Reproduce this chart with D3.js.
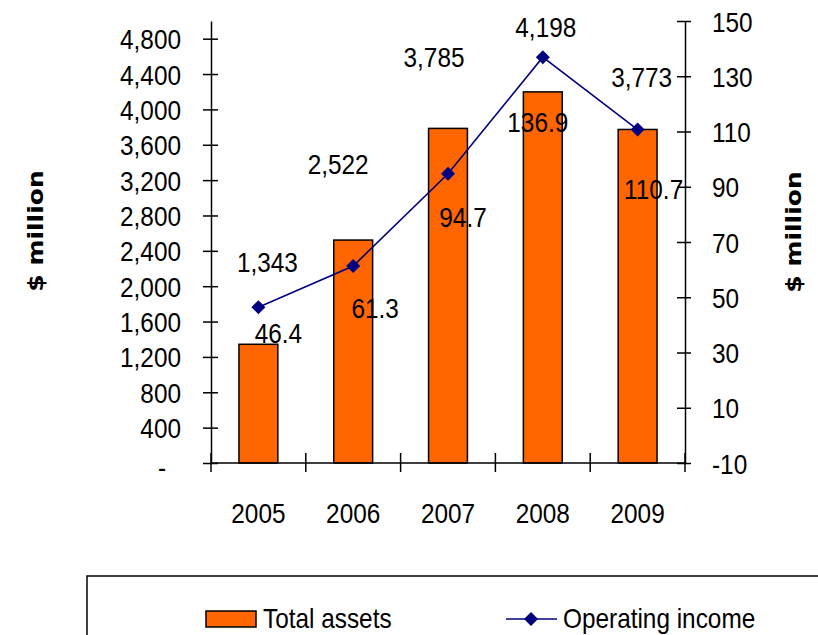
<!DOCTYPE html>
<html>
<head>
<meta charset="utf-8">
<script src="https://cdn.jsdelivr.net/npm/d3@7"></script>
<style>
  html, body { margin: 0; padding: 0; background: #fff; }
  svg { display: block; }
  .lbl { font-family: "Liberation Sans", Arial, sans-serif; font-size: 28px; fill: #000; }
  .ttl { font-family: "DejaVu Sans", Verdana, sans-serif; font-size: 25px; font-weight: bold; fill: #000; }
</style>
</head>
<body>
<svg id="chart" width="818" height="635"></svg>
<script>
// Data
const years = ["2005", "2006", "2007", "2008", "2009"];
const totalAssets = [1343, 2522, 3785, 4198, 3773];          // $ million, left axis
const operatingIncome = [46.4, 61.3, 94.7, 136.9, 110.7];    // $ million, right axis
const leftTicks = d3.range(0, 4801, 400);
const rightTicks = d3.range(-10, 151, 20);
const seriesNames = ["Total assets", "Operating income"];

// Label placement nudges [dx from category centre, dy from mark]
const assetLabelNudge = [[9, -72], [-15, -66], [-14, -61], [3, -55], [4, -42]];
const incomeLabelNudge = [[20, 36], [22, 52], [15, 53], [-5, 75], [16, 69]];

const SX = 0.87;            // horizontal squeeze of the label font
const BAR = "#FF6600", LINE = "#000080";

const svg = d3.select("#chart");
svg.append("rect").attr("width", 818).attr("height", 635).attr("fill", "#fff");

const plot = { left: 211, right: 685, top: 21, bottom: 463 };
const x = d3.scaleBand().domain(years).range([plot.left, plot.right]);
const yL = d3.scaleLinear().domain([0, 5000]).range([plot.bottom, plot.top]);
const yR = d3.scaleLinear().domain([-10, 150]).range([plot.bottom, plot.top]);
const fmt = d3.format(",");

function label(g, px, py, s, anchor, cls) {
  return g.append("text")
    .attr("class", cls || "lbl")
    .attr("text-anchor", anchor)
    .attr("transform", `translate(${px},${py}) scale(${SX},1)`)
    .text(s);
}

// Bars
const barW = x.bandwidth() * 0.41;
svg.append("g").selectAll("rect")
  .data(years.map((y, i) => ({ year: y, v: totalAssets[i] })))
  .join("rect")
  .attr("x", d => x(d.year) + (x.bandwidth() - barW) / 2)
  .attr("y", d => yL(d.v))
  .attr("width", barW)
  .attr("height", d => yL(0) - yL(d.v))
  .attr("fill", BAR)
  .attr("stroke", "#000")
  .attr("stroke-width", 1.5);

// Left axis
const axL = svg.append("g").attr("transform", `translate(${plot.left},0)`)
  .call(d3.axisLeft(yL).tickValues(leftTicks).tickSizeOuter(0)
    .tickFormat(d => d === 0 ? "-" : fmt(d)));
axL.select(".domain").attr("stroke", "#000").attr("stroke-width", 1.5);
axL.selectAll(".tick line").attr("x1", -8).attr("x2", 7).attr("stroke", "#000").attr("stroke-width", 1.5);
axL.selectAll(".tick text")
  .attr("class", "lbl").attr("font-size", null).attr("font-family", null)
  .attr("x", 0).attr("dy", null).attr("text-anchor", "end")
  .attr("transform", d => d === 0 ? `translate(-45,13) scale(${SX},1)` : `translate(-30,10) scale(${SX},1)`);

// Right axis (plain hyphen for negatives)
const axR = svg.append("g").attr("transform", `translate(${plot.right},0)`)
  .call(d3.axisRight(yR).tickValues(rightTicks).tickSizeOuter(0).tickFormat(d => String(d)));
axR.select(".domain").attr("stroke", "#000").attr("stroke-width", 1.5);
axR.selectAll(".tick line").attr("x1", -8).attr("x2", 6).attr("stroke", "#000").attr("stroke-width", 1.5);
axR.selectAll(".tick text")
  .attr("class", "lbl").attr("font-size", null).attr("font-family", null)
  .attr("x", 0).attr("dy", null).attr("text-anchor", "start")
  .attr("transform", `translate(27,10) scale(${SX},1)`);

// Category axis: boundary ticks and centred year labels
const xAxis = svg.append("g");
xAxis.append("line")
  .attr("x1", plot.left).attr("x2", plot.right)
  .attr("y1", plot.bottom).attr("y2", plot.bottom)
  .attr("stroke", "#000").attr("stroke-width", 1.5);
const edges = years.map(y => x(y)).concat([x.range()[1]]);
xAxis.selectAll("line.edge").data(edges).join("line")
  .attr("class", "edge")
  .attr("x1", d => d).attr("x2", d => d)
  .attr("y1", plot.bottom - 10).attr("y2", plot.bottom + 9)
  .attr("stroke", "#000").attr("stroke-width", 1.5);
years.forEach(y => label(xAxis, x(y) + x.bandwidth() / 2, 523, y, "middle"));

// Operating income line
const pts = years.map((y, i) => [x(y) + x.bandwidth() / 2, yR(operatingIncome[i])]);
svg.append("path")
  .attr("d", d3.line()(pts))
  .attr("fill", "none")
  .attr("stroke", LINE)
  .attr("stroke-width", 1.6);
const diamond = "M0,-7L7,0L0,7L-7,0Z";
svg.append("g").selectAll("path").data(pts).join("path")
  .attr("d", diamond)
  .attr("transform", d => `translate(${d[0]},${d[1]})`)
  .attr("fill", LINE);

// Data labels
const dl = svg.append("g");
years.forEach((y, i) => {
  const cx = x(y) + x.bandwidth() / 2;
  label(dl, cx + assetLabelNudge[i][0], yL(totalAssets[i]) + assetLabelNudge[i][1], fmt(totalAssets[i]), "middle");
  label(dl, cx + incomeLabelNudge[i][0], yR(operatingIncome[i]) + incomeLabelNudge[i][1], d3.format(".1f")(operatingIncome[i]), "middle");
});

// Axis titles
svg.append("text").attr("class", "ttl").attr("text-anchor", "middle")
  .attr("transform", `translate(43,231) scale(${SX},1) rotate(-90)`)
  .text("$ million");
svg.append("text").attr("class", "ttl").attr("text-anchor", "middle")
  .attr("transform", `translate(801,232) scale(${SX},1) rotate(-90)`)
  .text("$ million");

// Legend
const lg = svg.append("g");
lg.append("rect")
  .attr("x", 87).attr("y", 576).attr("width", 780).attr("height", 120)
  .attr("fill", "#fff").attr("stroke", "#000").attr("stroke-width", 1.5);
lg.append("rect")
  .attr("x", 206).attr("y", 611).attr("width", 50).attr("height", 16)
  .attr("fill", BAR).attr("stroke", "#000").attr("stroke-width", 1.5);
label(lg, 263, 628, seriesNames[0], "start");
lg.append("line")
  .attr("x1", 506).attr("x2", 557).attr("y1", 619).attr("y2", 619)
  .attr("stroke", LINE).attr("stroke-width", 1.6);
lg.append("path").attr("d", diamond).attr("transform", "translate(531,619)").attr("fill", LINE);
label(lg, 563, 628, seriesNames[1], "start");
</script>
</body>
</html>
